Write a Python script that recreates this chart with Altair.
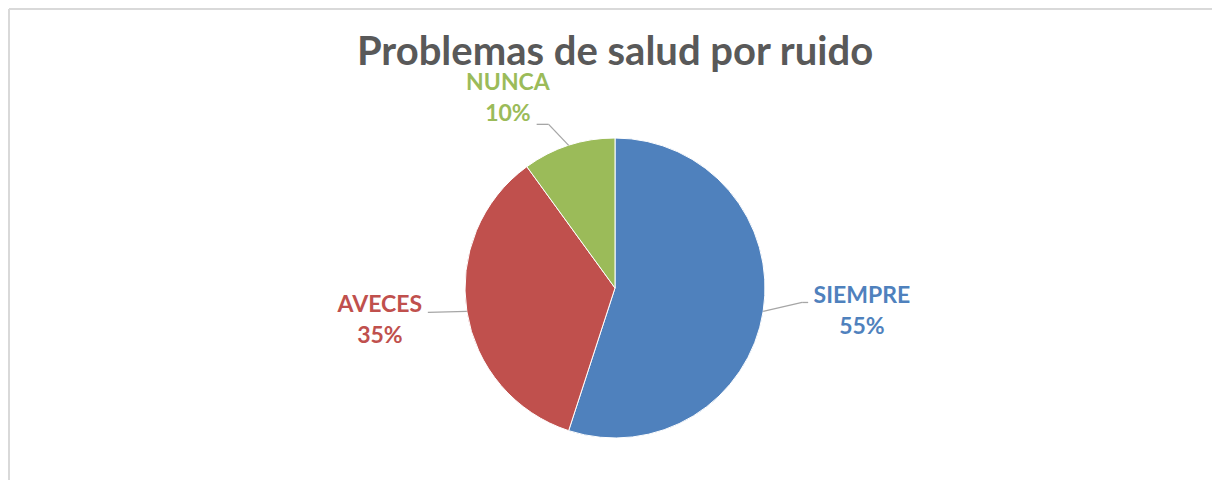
import altair as alt
import pandas as pd

# ---- data ----
categories = ["SIEMPRE", "AVECES", "NUNCA"]
values = [55, 35, 10]
colors = ["#4F81BD", "#C0504D", "#9BBB59"]
title_text = ["Problemas de salud por ruido"]

df = pd.DataFrame({"cat": categories, "val": values, "order": list(range(len(categories)))})

# ---- layout (styling) ----
W, H = 1204, 472
CX, CY, R = 606, 279, 150
FONT = "Lato"
LEADER = "#A6A6A6"

base = (
    alt.Chart(df)
    .transform_joinaggregate(total="sum(val)")
    .transform_window(cum="sum(val)", sort=[alt.SortField("order")], frame=[None, 0])
    .transform_calculate(
        pct="round(datum.val / datum.total * 100) + '%'",
        mid="2 * PI * (datum.cum - datum.val / 2) / datum.total",
    )
    .transform_calculate(label="datum.cat + '\\n' + datum.pct")
)

color_scale = alt.Scale(domain=categories, range=colors)

pie = base.mark_arc(outerRadius=R, stroke="white", strokeWidth=1).encode(
    theta=alt.Theta("val:Q", stack=True),
    color=alt.Color("cat:N", scale=color_scale, legend=None),
    order=alt.Order("order:Q"),
    x=alt.value(CX),
    y=alt.value(CY),
)


def label_layer(cat, radius, dx, dy):
    return (
        base.transform_filter(alt.datum.cat == cat)
        .transform_calculate(
            lx=f"{CX} + {radius} * sin(datum.mid)",
            ly=f"{CY} - {radius} * cos(datum.mid)",
        )
        .mark_text(
            font=FONT, fontWeight="bold", fontSize=23, lineBreak="\n", lineHeight=31,
            align="center", baseline="middle", dx=dx, dy=dy,
        )
        .encode(
            x=alt.X("lx:Q", scale=None, axis=None),
            y=alt.Y("ly:Q", scale=None, axis=None),
            text="label:N",
            color=alt.Color("cat:N", scale=color_scale, legend=None),
        )
    )


def leader_layer(cat, ex, ey, hx):
    # from slice edge at mid angle to elbow (ex, ey offset), then horizontal run of hx
    calc = base.transform_filter(alt.datum.cat == cat).transform_calculate(
        x0=f"{CX} + {R} * sin(datum.mid)",
        y0=f"{CY} - {R} * cos(datum.mid)",
    ).transform_calculate(
        x1=f"datum.x0 + ({ex})",
        y1=f"datum.y0 + ({ey})",
    ).transform_calculate(x2=f"datum.x1 + ({hx})")
    seg1 = calc.mark_rule(color=LEADER, strokeWidth=1.3).encode(
        x=alt.X("x0:Q", scale=None, axis=None),
        y=alt.Y("y0:Q", scale=None, axis=None),
        x2="x1:Q",
        y2="y1:Q",
    )
    seg2 = calc.mark_rule(color=LEADER, strokeWidth=1.3).encode(
        x=alt.X("x1:Q", scale=None, axis=None),
        y=alt.Y("y1:Q", scale=None, axis=None),
        x2="x2:Q",
        y2="y1:Q",
    )
    return seg1 + seg2


title = alt.Chart(pd.DataFrame({"t": title_text})).mark_text(
    font=FONT, fontWeight="bold", fontSize=40, color="#595959",
    align="center", baseline="middle",
).encode(text="t:N", x=alt.value(CX), y=alt.value(44))

border_top = alt.Chart(pd.DataFrame({"t": title_text})).mark_rule(color="#D9D9D9", strokeWidth=2).encode(
    x=alt.value(0), x2=alt.value(W), y=alt.value(0)
)
border_left = alt.Chart(pd.DataFrame({"t": title_text})).mark_rule(color="#D9D9D9", strokeWidth=2).encode(
    x=alt.value(0), y=alt.value(0), y2=alt.value(H)
)

chart = alt.layer(
    border_top,
    border_left,
    pie,
    leader_layer("SIEMPRE", 39, -9, 6),
    leader_layer("AVECES", -39, 1, 0),
    leader_layer("NUNCA", -20, -21, -12),
    label_layer("SIEMPRE", 250, 0, -31),
    label_layer("AVECES", 235, -3, -20),
    label_layer("NUNCA", 217, -40, 1),
    title,
).properties(
    width=W, height=H, padding=0,
    autosize=alt.AutoSizeParams(type="fit", contains="padding"),
).configure_view(stroke=None)

chart.save("out.html", embed_options={"renderer": "svg", "actions": False})
